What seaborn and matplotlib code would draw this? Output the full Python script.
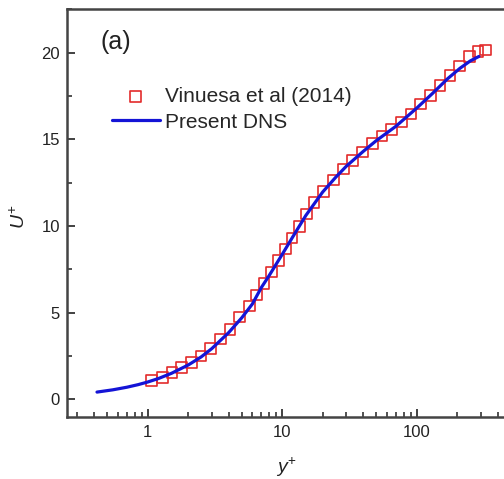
import numpy as np
import pandas as pd
import matplotlib
matplotlib.use("Agg")
import matplotlib.pyplot as plt
import seaborn as sns
from matplotlib.ticker import LogLocator, FuncFormatter, MultipleLocator, NullFormatter

# ---- data ----
ref_yplus = [1.07, 1.285, 1.516, 1.789, 2.11, 2.49, 2.94, 3.47, 4.09, 4.83,
             5.70, 6.46, 7.32, 8.31, 9.42, 10.55, 11.83, 13.41, 15.20, 17.24,
             20.22, 23.99, 28.48, 33.41, 39.65, 47.07, 55.21, 65.14, 77.31, 90.71,
             107.0, 127.0, 149.0, 176.8, 207.5, 246.2, 285.0, 325.0]
ref_U = [1.08, 1.27, 1.56, 1.83, 2.12, 2.50, 2.95, 3.47, 4.04, 4.74,
         5.39, 6.03, 6.68, 7.34, 8.01, 8.67, 9.30, 9.98, 10.69, 11.37,
         12.00, 12.66, 13.29, 13.79, 14.28, 14.76, 15.18, 15.57, 15.99, 16.47,
         17.03, 17.53, 18.11, 18.69, 19.23, 19.77, 20.05, 20.15]

dns_yplus = [0.42, 0.55, 0.7, 0.85, 1.0, 1.2, 1.5, 2.0, 2.5, 3.0, 4.0, 5.0, 6.0,
             7.0, 8.0, 10.0, 12.0, 15.0, 20.0, 25.0, 30.0, 40.0, 50.0, 70.0,
             100.0, 130.0, 170.0, 210.0, 250.0, 290.0]
dns_U = [0.42, 0.55, 0.70, 0.85, 1.0, 1.2, 1.5, 1.98, 2.45, 2.93, 3.85, 4.70, 5.50,
         6.45, 7.14, 8.36, 9.38, 10.61, 11.96, 12.81, 13.45, 14.30, 14.92, 15.75,
         16.80, 17.62, 18.50, 19.10, 19.52, 19.78]

ref_label = "Vinuesa et al (2014)"
dns_label = "Present DNS"
x_ticks = [1, 10, 100]
y_ticks = [0, 5, 10, 15, 20]

ref_df = pd.DataFrame({"yplus": ref_yplus, "U": ref_U})
dns_df = pd.DataFrame({"yplus": dns_yplus, "U": dns_U})

sns.set_style("ticks")
plt.rcParams["font.family"] = ["Liberation Sans", "DejaVu Sans"]
plt.rcParams["mathtext.fontset"] = "custom"
plt.rcParams["mathtext.rm"] = "Liberation Sans"
plt.rcParams["mathtext.it"] = "Liberation Sans:italic"

fig = plt.figure(figsize=(5.04, 4.79), dpi=100)
ax = fig.add_axes([66.7 / 504, 62.3 / 479, 444 / 504, 407.4 / 479])
ax.set_xscale("log")

sns.scatterplot(data=ref_df, x="yplus", y="U", ax=ax, marker="s", s=58,
                facecolor="none", edgecolor="#e32b2b", linewidth=1.2,
                label=ref_label, zorder=2)
sns.lineplot(data=dns_df, x="yplus", y="U", ax=ax, color="#1414d6", lw=2.3,
             label=dns_label, zorder=3, sort=False)

ax.set_xlim(0.25, 500)
ax.set_ylim(-1, 22.5)

ax.xaxis.set_major_locator(LogLocator(base=10, numticks=10))
ax.xaxis.set_minor_locator(LogLocator(base=10, subs=np.arange(2, 10), numticks=20))
ax.xaxis.set_major_formatter(FuncFormatter(lambda v, p: f"{v:g}"))
ax.xaxis.set_minor_formatter(NullFormatter())
ax.set_xticks(x_ticks)
ax.yaxis.set_major_locator(MultipleLocator(5))
ax.yaxis.set_minor_locator(MultipleLocator(2.5))
ax.set_yticks(y_ticks)

ax.tick_params(which="both", direction="in", top=False, right=False,
               color="#333333", labelcolor="#222222", labelsize=12)
ax.tick_params(which="major", length=6, width=1.3)
ax.tick_params(which="minor", length=3.5, width=1.2)
ax.tick_params(axis="x", which="major", pad=6)
ax.tick_params(axis="y", which="major", pad=5)

for sp in ax.spines.values():
    sp.set_linewidth(1.8)
    sp.set_color("#444444")

ax.set_xlabel(r"$y^{+}$", fontsize=14, color="#222222")
ax.set_ylabel(r"$U^{+}$", fontsize=14, color="#222222")
ax.xaxis.set_label_coords(0.496, -0.096)
ax.yaxis.set_label_coords(-0.085, 0.49)

h, l = ax.get_legend_handles_labels()
order = [l.index(ref_label), l.index(dns_label)]
ax.legend([h[i] for i in order], [l[i] for i in order], loc="upper left",
          bbox_to_anchor=(0.1014, 0.81), frameon=False, fontsize=15,
          handlelength=2.3, handletextpad=0.27, labelspacing=0.34,
          borderpad=0, borderaxespad=0)

fig.text(100 / 504, 1 - 41.7 / 479, "(a)", fontsize=18, va="center", ha="left",
         color="#222222")

fig.savefig("out.png", dpi=100)
